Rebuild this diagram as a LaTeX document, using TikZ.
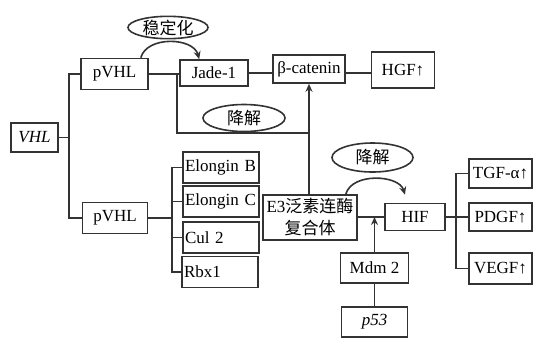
\documentclass[tikz,border=0pt]{standalone}
\usepackage{fontspec}
\setmainfont{Liberation Serif}
\newfontfamily\cjk{Noto Sans CJK SC}
\usetikzlibrary{arrows.meta,shapes.geometric}
\begin{document}
\begin{tikzpicture}[x=0.5pt,y=-0.5pt,line width=0.8pt,draw=black!80,
  font=\fontsize{8.5}{10}\selectfont,
  box/.style={draw=black!80,inner sep=1pt},
  subbox/.style={box,text width=36pt,align=left,minimum height=15.5pt},
  oval/.style={draw=black!80,ellipse,inner sep=0pt,font=\cjk\fontsize{8.5}{10}\selectfont},
  tip/.style={-{Stealth[length=4pt,width=3.5pt]}}]
\useasboundingbox (0,0) rectangle (536,339);
\node[box,minimum width=23.5pt,minimum height=14.5pt] (vhl) at (34.5,137.5) {\itshape VHL};
\node[box,minimum width=33.5pt,minimum height=15.5pt] (pvhla) at (114.5,74) {pVHL};
\node[box,minimum width=34pt,minimum height=13pt] (jade) at (214,73) {Jade-1};
\node[box,minimum width=36pt,minimum height=14pt] (beta) at (309,69) {β-catenin};
\node[box,minimum width=31.5pt,minimum height=18pt] (hgf) at (403,70) {HGF↑};
\node[box,minimum width=32.5pt,minimum height=15.5pt] (pvhlb) at (115,218) {pVHL};
\node[subbox] (elb) at (221,167.5) {Elongin B};
\node[subbox] (elc) at (221,201.5) {Elongin C};
\node[subbox] (cul) at (221,237.5) {Cul 2};
\node[subbox] (rbx) at (220,272) {Rbx1};
\node[box,minimum width=47pt,minimum height=22.5pt,align=center,inner sep=0pt] (e3) at (310,217.5) {E3{\cjk 泛素连酶}\\[1pt]{\cjk 复合体}};
\node[box,minimum width=30pt,minimum height=13.5pt] (hif) at (415,217) {HIF};
\node[box,minimum width=34pt,minimum height=15pt] (mdm) at (374.5,268) {Mdm 2};
\node[box,minimum width=33pt,minimum height=15pt] (p53) at (374.5,322) {\itshape p53};
\node[box,minimum width=31.5pt,minimum height=14.5pt] (tgf) at (500.5,173.5) {TGF-α↑};
\node[box,minimum width=31.5pt,minimum height=14pt] (pdgf) at (500.5,217) {PDGF↑};
\node[box,minimum width=31.5pt,minimum height=15.5pt] (vegf) at (500.5,268.5) {VEGF↑};
\node[oval,minimum width=40pt,minimum height=11pt] (stab) at (168,27.5) {稳定化};
\node[oval,minimum width=41pt,minimum height=13.5pt] (deg1) at (244,118) {降解};
\node[oval,minimum width=40.5pt,minimum height=14.5pt] (deg2) at (372.5,157.5) {降解};
\coordinate (t1) at (69,137.5);
\coordinate (j1) at (177,74);
\coordinate (j2) at (310,133);
\coordinate (b1) at (172,218);
\draw (vhl.east) -- (t1);
\draw (pvhla.west) -| (t1) |- (pvhlb.west);
\draw (pvhla.east) -- (jade.west |- pvhla.east);
\draw (jade.east) -- (jade.east -| beta.west);
\draw (jade.east -| beta.east) -- (jade.east -| hgf.west);
\draw (j1) |- (j2);
\draw[tip] (e3.north -| beta.south) -- (beta.south);
\draw[tip] ([xshift=-4pt]pvhla.north east) .. controls +(6,-22) and +(-6,-22) .. ([xshift=10pt]jade.north west);
\draw (pvhlb.east) -- (b1);
\draw (elb.west) -| (b1) |- (rbx.west);
\draw (elc.west) -- (elc.west -| b1);
\draw (cul.west) -- (cul.west -| b1);
\draw (e3.east |- hif.west) -- (hif.west);
\draw[tip] ([xshift=-6pt]e3.north east) .. controls +(6,-22) and +(-6,-20) .. ([shift={(-5pt,4pt)}]hif.north);
\draw[tip] (mdm.north) -- (mdm.north |- hif.west);
\draw (mdm.south) -- (p53.north);
\draw (hif.east) -- ++(10,0) coordinate (h1);
\draw (tgf.west) -| (h1) |- (vegf.west);
\draw (h1) -- (pdgf.west);
\end{tikzpicture}
\end{document}
